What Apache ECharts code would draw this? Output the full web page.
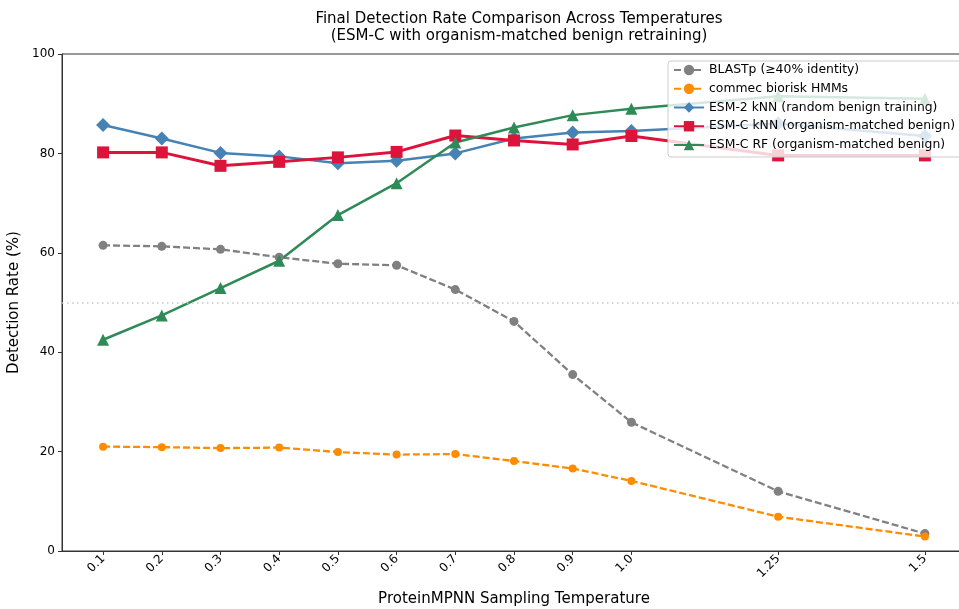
<!DOCTYPE html>
<html>
<head>
<meta charset="utf-8">
<script src="https://cdn.jsdelivr.net/npm/echarts@6/dist/echarts.min.js"></script>
<style>html,body{margin:0;padding:0;background:#fff}#c{width:959px;height:609px}</style>
</head>
<body>
<div id="c"></div>
<script>
var temps = [0.1, 0.2, 0.3, 0.4, 0.5, 0.6, 0.7, 0.8, 0.9, 1.0, 1.25, 1.5];
var tickLabels = ['0.1', '0.2', '0.3', '0.4', '0.5', '0.6', '0.7', '0.8', '0.9', '1.0', '1.25', '1.5'];
var blastp = [61.5, 61.3, 60.7, 59.1, 57.8, 57.5, 52.6, 46.2, 35.5, 25.9, 12.0, 3.5];
var commec = [21.0, 20.9, 20.7, 20.8, 19.9, 19.4, 19.5, 18.1, 16.6, 14.1, 6.9, 2.9];
var esm2knn = [85.7, 83.0, 80.1, 79.4, 78.0, 78.5, 80.0, 83.0, 84.2, 84.5, 86.0, 83.5];
var esmcknn = [80.2, 80.2, 77.5, 78.3, 79.2, 80.3, 83.6, 82.6, 81.8, 83.5, 79.6, 79.6];
var esmcrf = [42.5, 47.4, 52.9, 58.4, 67.6, 74.0, 82.2, 85.2, 87.7, 89.0, 91.5, 91.0];
var yTicks = [0, 20, 40, 60, 80, 100];

function pairs(vals){ return temps.map(function(t,i){ return [t, vals[i]]; }); }

var chart = echarts.init(document.getElementById('c'), null, {renderer:'canvas'});
var font = 'DejaVu Sans';
chart.setOption({
  animation: false,
  textStyle: {fontFamily: font},
  title: {
    text: 'Final Detection Rate Comparison Across Temperatures\n(ESM-C with organism-matched benign retraining)',
    left: 514, top: 5, textAlign: 'center',
    textStyle: {fontFamily: font, fontSize: 15, fontWeight: 'normal', color: '#000', lineHeight: 17.5}
  },
  grid: {left: 62, right: -7, top: 54, bottom: 58, outerBoundsMode: 'none', containLabel: false,
    show: true, borderColor: '#333', borderWidth: 1, backgroundColor: 'transparent'},
  legend: {
    orient: 'vertical', left: 668, top: 61,
    padding: [3, 8, 6, 5],
    itemWidth: 30, itemHeight: 13, itemGap: 6.75,
    backgroundColor: 'rgba(255,255,255,0.8)', borderColor: '#cccccc', borderWidth: 1, borderRadius: 3,
    textStyle: {fontFamily: font, fontSize: 12.4, color: '#000', padding: [0,0,0,0]},
    data: ['BLASTp (≥40% identity)', 'commec biorisk HMMs', 'ESM-2 kNN (random benign training)', 'ESM-C kNN (organism-matched benign)', 'ESM-C RF (organism-matched benign)']
  },
  xAxis: {
    type: 'value', min: 0.03, max: 1.57,
    name: 'ProteinMPNN Sampling Temperature', nameLocation: 'middle', nameGap: 41,
    nameTextStyle: {fontFamily: font, fontSize: 15, color: '#000'},
    axisLine: {onZero: false, lineStyle: {color: '#333', width: 1}},
    axisTick: {show: true, length: 4, lineStyle: {color: '#333'}, customValues: temps},
    axisLabel: {
      rotate: 45, fontSize: 12, color: '#000', margin: 6, fontFamily: font,
      customValues: temps,
      formatter: function(v){ var i = -1; for (var k=0;k<temps.length;k++){ if (Math.abs(temps[k]-v)<1e-6) i=k; } return i>=0 ? tickLabels[i] : ''; }
    },
    splitLine: {show: false}
  },
  yAxis: {
    type: 'value', min: 0, max: 100, interval: 20,
    name: 'Detection Rate (%)', nameLocation: 'middle', nameGap: 36,
    nameTextStyle: {fontFamily: font, fontSize: 15, color: '#000'},
    axisLine: {show: true, lineStyle: {color: '#333', width: 1}},
    axisTick: {show: true, length: 4, lineStyle: {color: '#333'}},
    axisLabel: {fontSize: 12, color: '#000', margin: 7, fontFamily: font,
      formatter: function(v){ return yTicks.indexOf(v) >= 0 ? String(v) : ''; }},
    splitLine: {show: false}
  },
  series: [
    {
      name: 'BLASTp (≥40% identity)', type: 'line', data: pairs(blastp),
      symbol: 'circle', symbolSize: 9, color: '#808080',
      lineStyle: {color: '#808080', width: 2.3, type: [7, 3]},
      itemStyle: {color: '#808080'},
      markLine: {silent: true, symbol: 'none', label: {show: false},
        lineStyle: {color: '#c8c8c8', type: [1.5, 3.5], width: 1.5},
        data: [{yAxis: 50}]},
      z: 3
    },
    {
      name: 'commec biorisk HMMs', type: 'line', data: pairs(commec),
      symbol: 'circle', symbolSize: 8, color: '#ff8c00',
      lineStyle: {color: '#ff8c00', width: 2.3, type: [7, 3]},
      itemStyle: {color: '#ff8c00'}, z: 3
    },
    {
      name: 'ESM-2 kNN (random benign training)', type: 'line', data: pairs(esm2knn),
      symbol: 'diamond', symbolSize: 14, color: '#4682b4',
      lineStyle: {color: '#4682b4', width: 2.5},
      itemStyle: {color: '#4682b4'}, z: 3
    },
    {
      name: 'ESM-C kNN (organism-matched benign)', type: 'line', data: pairs(esmcknn),
      symbol: 'rect', symbolSize: 12, color: '#dc143c',
      lineStyle: {color: '#dc143c', width: 3},
      itemStyle: {color: '#dc143c'}, z: 3
    },
    {
      name: 'ESM-C RF (organism-matched benign)', type: 'line', data: pairs(esmcrf),
      symbol: 'triangle', symbolSize: 12, color: '#2e8b57',
      lineStyle: {color: '#2e8b57', width: 2.5},
      itemStyle: {color: '#2e8b57'}, z: 3
    }
  ]
});
</script>
</body>
</html>
